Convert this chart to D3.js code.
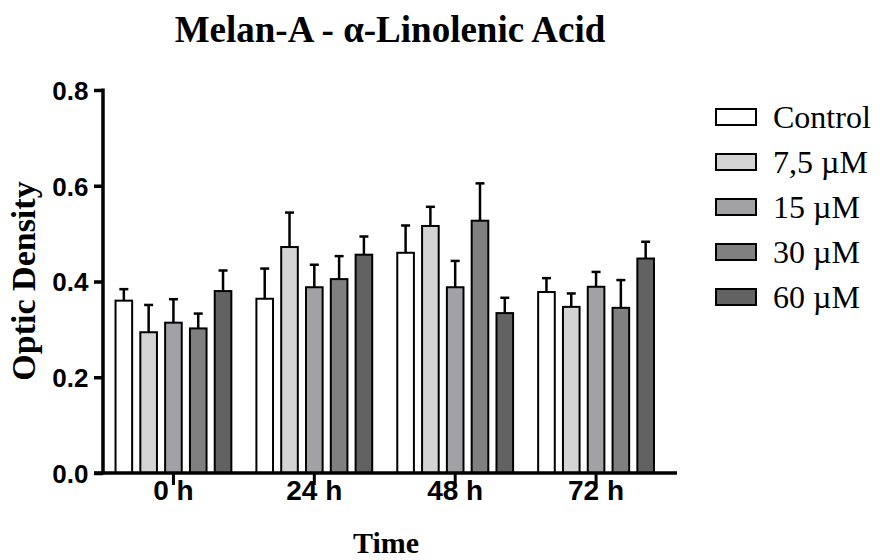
<!DOCTYPE html>
<html>
<head>
<meta charset="utf-8">
<script src="https://cdn.jsdelivr.net/npm/d3@7"></script>
<style>
  html, body { margin: 0; padding: 0; background: #fff; }
  svg { display: block; }
</style>
</head>
<body>
<svg id="chart" width="882" height="560"></svg>
<script>
// Time points on the x axis
const timepoints = ["0 h", "24 h", "48 h", "72 h"];
// Treatment groups
const treatments = ["Control", "7,5 \u00B5M", "15 \u00B5M", "30 \u00B5M", "60 \u00B5M"];
// Mean optic density per treatment, one entry per time point
const controlMean = [0.360, 0.364, 0.460, 0.378];
const dose7Mean   = [0.294, 0.472, 0.516, 0.347];
const dose15Mean  = [0.314, 0.388, 0.388, 0.389];
const dose30Mean  = [0.302, 0.405, 0.527, 0.345];
const dose60Mean  = [0.380, 0.456, 0.334, 0.448];
// Upper error (SEM) per treatment
const controlErr = [0.024, 0.063, 0.057, 0.029];
const dose7Err   = [0.057, 0.072, 0.040, 0.028];
const dose15Err  = [0.049, 0.047, 0.055, 0.031];
const dose30Err  = [0.031, 0.048, 0.078, 0.058];
const dose60Err  = [0.043, 0.038, 0.032, 0.035];
// Y axis ticks
const yTicks = [0.0, 0.2, 0.4, 0.6, 0.8];

const means = [controlMean, dose7Mean, dose15Mean, dose30Mean, dose60Mean];
const errs = [controlErr, dose7Err, dose15Err, dose30Err, dose60Err];
const fills = ["#ffffff", "#d4d4d4", "#a2a2a6", "#808080", "#626262"];

const rows = [];
timepoints.forEach((t, ti) => {
  treatments.forEach((s, si) => {
    rows.push({ time: t, series: s, si, value: means[si][ti], err: errs[si][ti] });
  });
});

const svg = d3.select("#chart");
const axisLeftX = 103, axisRightX = 677;
const y = d3.scaleLinear().domain([0, 0.8]).range([473, 90]);
const x0 = d3.scaleBand().domain(timepoints).range([103, 666.5]).padding(0);
const x1 = d3.scaleBand().domain(treatments).range([0, 124])
  .paddingInner(0.33).paddingOuter(0.165);
const groupOffset = (x0.bandwidth() - 124) / 2;

// Bars
const bars = svg.append("g");
bars.selectAll("rect").data(rows).join("rect")
  .attr("x", d => x0(d.time) + groupOffset + x1(d.series))
  .attr("y", d => y(d.value))
  .attr("width", x1.bandwidth())
  .attr("height", d => y(0) - y(d.value))
  .attr("fill", d => fills[d.si])
  .attr("stroke", "#000")
  .attr("stroke-width", 2);

// Upper error bars
const eb = svg.append("g").attr("stroke", "#000").attr("stroke-width", 2.5);
rows.forEach(d => {
  const cx = x0(d.time) + groupOffset + x1(d.series) + x1.bandwidth() / 2;
  eb.append("line").attr("x1", cx).attr("x2", cx)
    .attr("y1", y(d.value)).attr("y2", y(d.value + d.err));
  eb.append("line").attr("x1", cx - 4.5).attr("x2", cx + 4.5)
    .attr("y1", y(d.value + d.err)).attr("y2", y(d.value + d.err));
});

// Y axis
const yAxis = svg.append("g").attr("transform", `translate(${axisLeftX},0)`)
  .call(d3.axisLeft(y).tickValues(yTicks).tickFormat(d3.format(".1f")).tickSize(9).tickSizeOuter(0));
yAxis.select(".domain").remove();
yAxis.selectAll(".tick line").attr("stroke", "#000").attr("stroke-width", 3.5);
yAxis.selectAll(".tick text")
  .attr("x", -14.5).attr("dy", "0.36em")
  .style("font-family", "'Liberation Sans', Arial, sans-serif")
  .style("font-weight", "bold").style("font-size", "26px").attr("fill", "#000");
svg.append("line").attr("x1", axisLeftX).attr("x2", axisLeftX)
  .attr("y1", y(0.8) - 1.5).attr("y2", y(0) + 1.5)
  .attr("stroke", "#000").attr("stroke-width", 3.5);

// X axis
const xAxis = svg.append("g").attr("transform", `translate(0,${y(0)})`)
  .call(d3.axisBottom(x0).tickSize(12).tickSizeOuter(0));
xAxis.select(".domain").remove();
xAxis.selectAll(".tick line").attr("stroke", "#000").attr("stroke-width", 3);
xAxis.selectAll(".tick text")
  .attr("y", 7).attr("dy", "0.71em")
  .style("font-family", "'Liberation Sans', Arial, sans-serif")
  .style("font-weight", "bold").style("font-size", "28px").attr("fill", "#000");
xAxis.selectAll(".tick line").raise();
svg.append("line").attr("x1", axisLeftX - 9).attr("x2", axisRightX)
  .attr("y1", y(0)).attr("y2", y(0))
  .attr("stroke", "#000").attr("stroke-width", 3.5);

// Title
svg.append("text").attr("x", 390).attr("y", 42).attr("text-anchor", "middle")
  .style("font-family", "'Liberation Serif', 'Times New Roman', serif")
  .style("font-weight", "bold").style("font-size", "37px")
  .text("Melan-A - \u03B1-Linolenic Acid");

// Axis titles
svg.append("text").attr("transform", "translate(35,281) rotate(-90)").attr("text-anchor", "middle")
  .style("font-family", "'Liberation Serif', 'Times New Roman', serif")
  .style("font-weight", "bold").style("font-size", "34px")
  .text("Optic Density");
svg.append("text").attr("x", 386).attr("y", 553).attr("text-anchor", "middle")
  .style("font-family", "'Liberation Serif', 'Times New Roman', serif")
  .style("font-weight", "bold").style("font-size", "30px")
  .text("Time");

// Legend
const legend = svg.append("g");
treatments.forEach((s, i) => {
  const cy = 117 + i * 45;
  legend.append("rect").attr("x", 716).attr("y", cy - 8).attr("width", 40).attr("height", 16)
    .attr("fill", fills[i]).attr("stroke", "#000").attr("stroke-width", 2);
  legend.append("text").attr("x", 773).attr("y", cy).attr("dy", "0.35em")
    .style("font-family", "'Liberation Serif', 'Times New Roman', serif")
    .style("font-size", "32px")
    .text(s);
});
</script>
</body>
</html>
